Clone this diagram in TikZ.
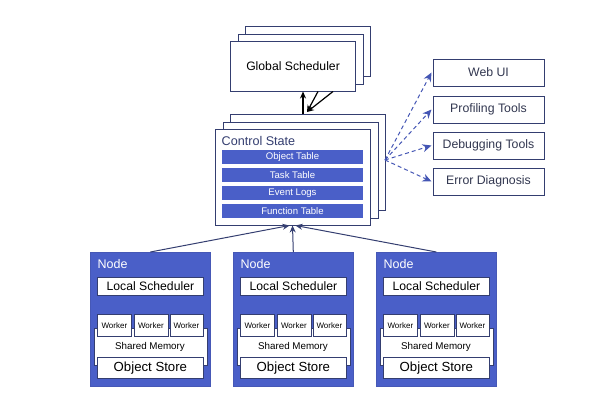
\documentclass[tikz,border=0pt]{standalone}
\usepackage{fontspec}
\setmainfont{Liberation Sans}
\usetikzlibrary{arrows.meta}
\definecolor{navy}{RGB}{52,62,112}
\definecolor{rblue}{RGB}{74,95,200}
\definecolor{dblue}{RGB}{68,86,180}
\definecolor{txt}{RGB}{50,55,80}
\begin{document}
\begin{tikzpicture}[x=1pt,y=-1pt,
  wbox/.style={draw=navy,line width=1.1pt,fill=white,inner sep=0pt,anchor=north west},
  tbl/.style={fill=rblue,text=white,minimum width=141pt,minimum height=13.5pt,inner sep=0pt,font=\fontsize{9.6}{10}\selectfont},
  tool/.style={draw=navy,line width=1pt,fill=white,minimum width=111pt,minimum height=27pt,inner sep=0pt,font=\fontsize{12.3}{14}\selectfont,text=txt},
  nodebox/.style={fill=rblue,draw=rblue!80!navy,line width=0.6pt,minimum width=120pt,minimum height=134pt,inner sep=0pt,anchor=north west},
  inbox/.style={draw=navy,line width=0.8pt,fill=white,inner sep=0pt,anchor=north west,text=black},
  link/.style={draw=navy,line width=1pt,-{Stealth[length=7pt,width=6pt,fill=rblue]}},
  dlink/.style={draw=dblue,line width=1pt,dash pattern=on 4pt off 3pt,-{Stealth[length=9pt,width=8pt]}},
  blk/.style={draw=black,line width=1.2pt,-{Stealth[length=7pt,width=6pt]}}
]
\useasboundingbox (0,0) rectangle (600,415);
% Global scheduler stack
\node[wbox,minimum width=125pt,minimum height=50pt] (gs3) at (245,26) {};
\node[wbox,minimum width=125pt,minimum height=50pt] (gs2) at (237.5,33.5) {};
\node[wbox,minimum width=125pt,minimum height=50pt,font=\fontsize{12.2}{14}\selectfont] (gs) at (230,41) {Global Scheduler};
% Control state stack
\node[wbox,minimum width=155pt,minimum height=96pt] (cs3) at (230,114) {};
\node[wbox,minimum width=155pt,minimum height=96pt] (cs2) at (222.5,121.5) {};
\node[wbox,minimum width=155pt,minimum height=96pt] (cs) at (215,129) {};
\node[anchor=west,inner sep=0pt,text=navy,font=\fontsize{12.6}{14}\selectfont] (cslabel) at (221.5,140.5) {Control State};
\node[tbl] (t1) at (292.5,157) {Object Table};
\node[tbl] (t2) at (292.5,175) {Task Table};
\node[tbl] (t3) at (292.5,193) {Event Logs};
\node[tbl] (t4) at (292.5,211) {Function Table};
% arrows to global scheduler
\coordinate (cup) at (303,114);
\coordinate (cup2) at (307,112);
\coordinate (g1) at (303,91.5);
\coordinate (g2) at (318,91.5);
\coordinate (g3) at (333,91.5);
\draw[blk,line width=2pt] (cup) -- (g1);
\draw[blk] (g2) -- (cup2);
\draw[blk] (g3) -- (cup2);
% tools
\node[tool] (web) at (488.5,72.5) {Web UI};
\node[tool] (prof) at (488.5,109.5) {Profiling Tools};
\node[tool] (dbg) at (488.5,145.5) {Debugging Tools};
\node[tool] (err) at (488.5,181.5) {Error Diagnosis};
\coordinate (fan) at (385,160);
\foreach \t in {web,prof,dbg,err} \draw[dlink] (fan) -- ([xshift=-1pt]\t.west);
% nodes
\foreach \n/\x in {n1/90,n2/233,n3/376}{
  \node[nodebox] (\n) at (\x,252) {};
  \node[anchor=west,inner sep=0pt,text=white,font=\fontsize{12.5}{14}\selectfont] (\n lbl) at (\x+7.5,264) {Node};
  \node[inbox,minimum width=106pt,minimum height=18pt,font=\fontsize{12.2}{14}\selectfont] (\n ls) at (\x+7,277) {Local Scheduler};
  \node[inbox,minimum width=113pt,minimum height=37pt] (\n sm) at (\x+4,328) {};
  \node[inner sep=0pt,font=\fontsize{9.8}{11}\selectfont] (\n smt) at (\x+60,347) {Shared Memory};
  \node[inbox,minimum width=34pt,minimum height=22pt,font=\fontsize{8}{9}\selectfont] (\n w1) at (\x+7,314) {Worker};
  \node[inbox,minimum width=34pt,minimum height=22pt,font=\fontsize{8}{9}\selectfont] (\n w2) at (\x+43.5,314) {Worker};
  \node[inbox,minimum width=33pt,minimum height=22pt,font=\fontsize{8}{9}\selectfont] (\n w3) at (\x+79.5,314) {Worker};
  \node[inbox,minimum width=106pt,minimum height=21pt,font=\fontsize{13.2}{15}\selectfont] (\n os) at (\x+7,357) {Object Store};
}
\coordinate (csb) at (292.5,225.5);
\draw[link] (n1.north) -- ([xshift=-3pt]csb);
\draw[link] (n2.north) -- (csb);
\draw[link] (n3.north) -- ([xshift=3pt]csb);
\end{tikzpicture}
\end{document}
